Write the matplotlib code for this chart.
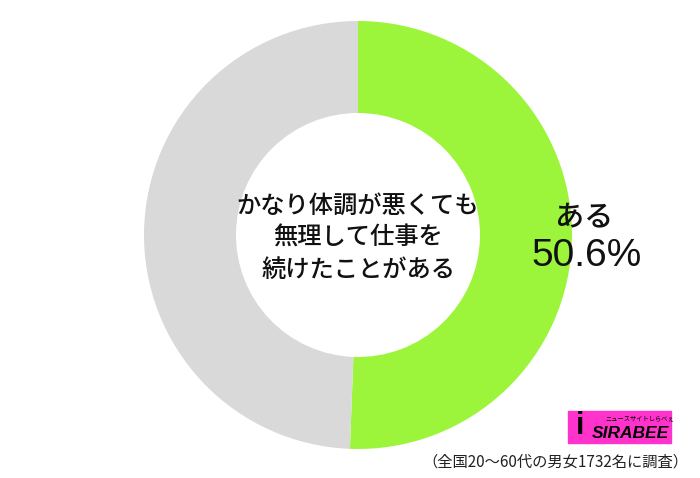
import matplotlib.pyplot as plt
from matplotlib.patches import Rectangle

plt.rcParams['font.family'] = ['Noto Sans CJK JP', 'DejaVu Sans']

labels = ['ある', 'その他']
values = [50.6, 49.4]
colors = ['#9cf53a', '#d9d9d9']
title = 'かなり体調が悪くても\n無理して仕事を\n続けたことがある'
note = '（全国20〜60代の男女1732名に調査）'

fig = plt.figure(figsize=(7, 4.78), dpi=100)
ax = fig.add_axes([0, 0, 1, 1])

# donut, clockwise from 12 o'clock
ax.pie(values, colors=colors, startangle=90, counterclock=False,
       center=(358, 243), radius=214,
       wedgeprops=dict(width=92, edgecolor='none'))

# pie resets the limits, so set them afterwards
ax.set_xlim(0, 700)
ax.set_ylim(0, 478)
ax.set_aspect('equal')
ax.axis('off')

ax.text(358, 240, title, ha='center', va='center', fontsize=17.5,
        fontweight='medium', linespacing=1.3, color='#111111')
ax.text(584, 261, labels[0], ha='center', va='center', fontsize=21,
        fontweight='medium', color='#111111')
ax.text(587, 222, f'{values[0]}%', ha='center', va='center', fontsize=28,
        color='#111111', family=['Liberation Sans', 'DejaVu Sans'])

# logo
ax.add_patch(Rectangle((568, 35), 103, 32, color='#ff33cc', zorder=3))
ax.text(580, 37, 'i', fontsize=22, fontweight='bold', color='black',
        ha='center', va='bottom', zorder=4, family=['Liberation Sans', 'DejaVu Sans'])
ax.text(669, 37, 'SIRABEE', fontsize=12.5, fontweight='bold', style='italic',
        color='black', ha='right', va='bottom', zorder=4,
        family=['Liberation Sans', 'DejaVu Sans'])
ax.text(640, 60, 'ニュースサイトしらべぇ', fontsize=4.5, color='black',
        ha='center', va='center', zorder=4)

ax.text(688, 16, note, ha='right', va='center', fontsize=11, color='#222222')

fig.savefig('out.png', dpi=100)
